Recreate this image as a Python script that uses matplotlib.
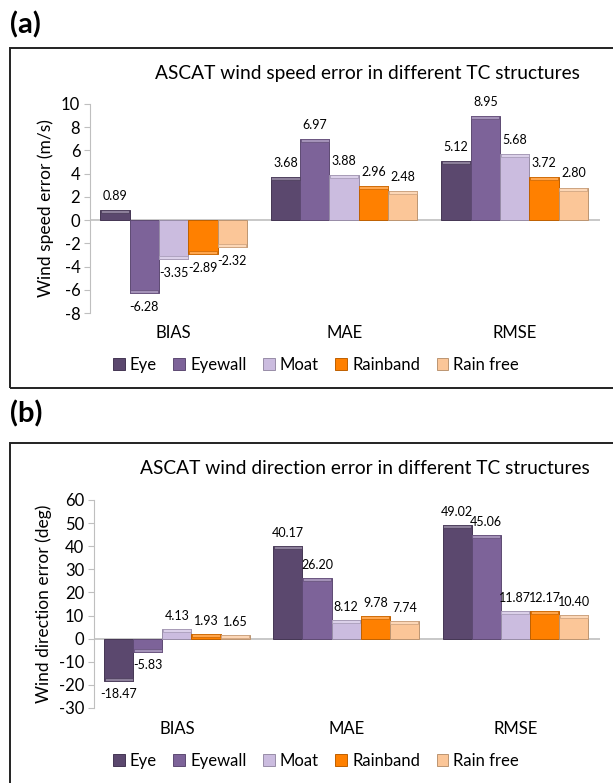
import numpy as np
import matplotlib
matplotlib.use("Agg")
import matplotlib.pyplot as plt
from matplotlib.patches import Rectangle
from matplotlib.colors import to_rgb

plt.rcParams['font.family'] = ['Lato', 'DejaVu Sans']
plt.rcParams['axes.unicode_minus'] = False

# data
metrics = ['BIAS', 'MAE', 'RMSE']
regions = ['Eye', 'Eyewall', 'Moat', 'Rainband', 'Rain free']
colors = ['#5b486e', '#7d6399', '#cbbcdf', '#ff8000', '#fbc698']

speed_err = [
    [0.89, 3.68, 5.12],    # Eye
    [-6.28, 6.97, 8.95],   # Eyewall
    [-3.35, 3.88, 5.68],   # Moat
    [-2.89, 2.96, 3.72],   # Rainband
    [-2.32, 2.48, 2.80],   # Rain free
]
dir_err = [
    [-18.47, 40.17, 49.02],
    [-5.83, 26.20, 45.06],
    [4.13, 8.12, 11.87],
    [1.93, 9.78, 12.17],
    [1.65, 7.74, 10.40],
]

W, H = 613, 783
fig = plt.figure(figsize=(W / 100, H / 100), dpi=100)


def fx(px):
    return px / W


def fy(px):
    return 1 - px / H


def mix(c, other, t):
    a = np.array(to_rgb(c))
    b = np.array(to_rgb(other))
    return tuple(a * (1 - t) + b * t)


def draw_panel(rect, vals, ylim, ystep, ylabel, ylab_x, label_off, bevel):
    ax = fig.add_axes(rect)
    x = np.arange(len(metrics))
    n = len(regions)
    bw = 0.86 / n
    for i, reg in enumerate(regions):
        xs = x - 0.43 + bw * (i + 0.5)
        v = np.array(vals[i])
        ax.bar(xs, v, bw, color=colors[i], edgecolor=mix(colors[i], 'black', 0.25),
               linewidth=0.7, label=reg, zorder=2)
        # bevel strip on the outer end
        bv = np.sign(v) * np.minimum(np.abs(v), bevel)
        ax.bar(xs, bv, bw * 0.96, bottom=v - bv, color=mix(colors[i], 'white', 0.3),
               edgecolor=mix(colors[i], 'black', 0.2), linewidth=0.5, zorder=3)
        for xx, vv in zip(xs, v):
            if vv >= 0:
                ax.text(xx, vv + label_off, f'{vv:.2f}', ha='center', va='bottom',
                        fontsize=9)
            else:
                ax.text(xx, vv - label_off, f'{vv:.2f}', ha='center', va='top',
                        fontsize=9)
    ax.axhline(0, color='#bfbfbf', lw=1.2, zorder=1)
    ax.set_xlim(-0.49, 2.5)
    ax.set_ylim(*ylim)
    ax.set_yticks(np.arange(ylim[0], ylim[1] + 0.1, ystep))
    ax.set_xticks(x)
    ax.set_xticklabels(metrics, fontsize=12)
    ax.tick_params(axis='x', length=0, pad=9)
    ax.tick_params(axis='y', length=4, color='#bfbfbf', labelsize=12, pad=3)
    for s in ['top', 'right', 'bottom']:
        ax.spines[s].set_visible(False)
    ax.spines['left'].set_color('#bfbfbf')
    ax.patch.set_alpha(0)
    fig.text(ylab_x, rect[1] + rect[3] / 2, ylabel, rotation=90, ha='center',
             va='center', fontsize=12.5)
    return ax


def add_legend(ax, ypx):
    h, l = ax.get_legend_handles_labels()
    fig.legend(h, l, loc='center', bbox_to_anchor=(fx(316), fy(ypx)), ncol=5,
               frameon=False, fontsize=12, handlelength=0.7, handleheight=0.7,
               handletextpad=0.3, columnspacing=1.0)


# panel (a)
fig.add_artist(Rectangle((fx(10), fy(388)), 1.2, fy(48) - fy(388),
                         transform=fig.transFigure, fill=False, ec='#222222', lw=1.4))
fig.text(fx(10), fy(25), '(a)', fontsize=21, fontweight='bold', ha='left', va='center')
fig.text(fx(367), fy(73), 'ASCAT wind speed error in different TC structures',
         fontsize=13.8, ha='center', va='center')
ax1 = draw_panel([fx(90), fy(313), fx(510), (313 - 104) / H], speed_err, (-8, 10), 2,
                 'Wind speed error (m/s)', fx(46), 0.7, 0.25)
add_legend(ax1, 365)

# panel (b)
fig.add_artist(Rectangle((fx(10), -0.1), 1.2, fy(443) + 0.1,
                         transform=fig.transFigure, fill=False, ec='#222222', lw=1.4))
fig.text(fx(10), fy(414), '(b)', fontsize=21, fontweight='bold', ha='left', va='center')
fig.text(fx(365), fy(468), 'ASCAT wind direction error in different TC structures',
         fontsize=13.8, ha='center', va='center')
ax2 = draw_panel([fx(94), fy(708), fx(506), (708 - 500) / H], dir_err, (-30, 60), 10,
                 'Wind direction error (deg)', fx(44), 3.0, 1.3)
add_legend(ax2, 761)

fig.savefig('out.png', dpi=100)
